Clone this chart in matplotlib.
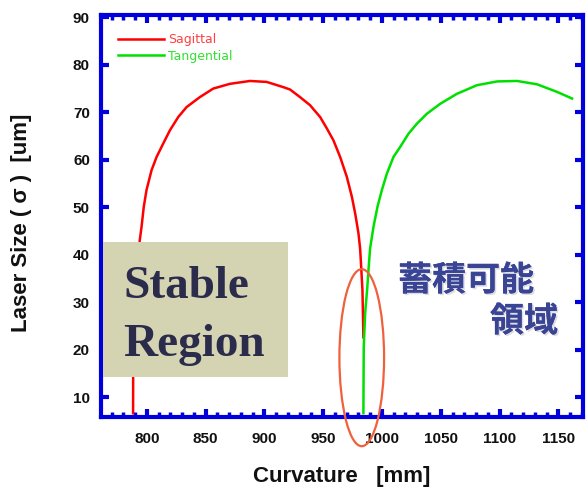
import matplotlib
matplotlib.use("Agg")
import matplotlib.pyplot as plt
from matplotlib.patches import Ellipse, Rectangle
from matplotlib.ticker import MultipleLocator
import matplotlib.patheffects as pe

# Beam size versus mirror curvature
sag_curv = [788.3, 788.4, 789.4, 791.5, 794.0, 795.5, 797.4, 799.7, 804.0, 808.3,
            813.9, 819.6, 826.7, 833.8, 845.1, 856.5, 870.7, 887.7, 901.9, 916.1,
            921.8, 930.3, 938.8, 947.4, 953.1, 958.7, 964.4, 970.1, 974.4, 977.2,
            980.0, 981.4, 982.0, 983.4, 984.2]
sag_size = [6.6, 20.0, 30.0, 38.0, 43.1, 45.9, 50.1, 53.6, 57.8, 60.6,
            63.4, 66.2, 69.0, 71.1, 73.2, 75.0, 76.0, 76.6, 76.4, 75.3,
            74.8, 73.2, 71.5, 69.0, 66.6, 64.1, 60.6, 56.4, 52.2, 48.7,
            44.5, 41.3, 38.8, 32.5, 22.6]

tan_curv = [984.2, 984.5, 985.7, 987.5, 988.5, 989.9, 992.8, 996.2, 999.9, 1004.2,
            1009.8, 1015.5, 1022.6, 1029.7, 1038.2, 1049.6, 1063.8, 1080.7, 1097.9,
            1114.9, 1131.9, 1148.9, 1161.7]
tan_size = [6.6, 20.5, 27.7, 33.0, 36.7, 41.3, 45.9, 50.1, 53.6, 57.1,
            60.6, 62.7, 65.5, 67.6, 69.7, 71.8, 73.9, 75.7, 76.5,
            76.6, 75.9, 74.3, 72.9]

x_ticks = [800, 850, 900, 950, 1000, 1050, 1100, 1150]
y_ticks = [10, 20, 30, 40, 50, 60, 70, 80, 90]

W, H, DPI = 587, 490, 100
fig = plt.figure(figsize=(W / DPI, H / DPI), dpi=DPI, facecolor="white")
# axes box in pixels: left 101, right 583, top 15, bottom 417
ax = fig.add_axes([101 / W, 1 - 417 / H, (583 - 101) / W, (417 - 15) / H])

ax.plot(sag_curv, sag_size, color="#ff0000", lw=1.8, label="Sagittal", zorder=3)
ax.plot(tan_curv, tan_size, color="#00e000", lw=1.8, label="Tangential", zorder=3)

ax.set_xlim(761, 1171)
ax.set_ylim(5.8, 90.5)
ax.set_xticks(x_ticks)
ax.set_yticks(y_ticks)
ax.xaxis.set_minor_locator(MultipleLocator(10))

blue = "#0000dd"
for s in ax.spines.values():
    s.set_color(blue)
    s.set_linewidth(3)
ax.tick_params(which="both", direction="in", colors=blue, top=True, right=True)
ax.tick_params(which="major", length=6, width=3)
ax.tick_params(which="minor", length=3.5, width=2.5)
ax.tick_params(axis="x", pad=11)
ax.tick_params(axis="y", pad=8)
for lab in ax.get_xticklabels() + ax.get_yticklabels():
    lab.set_color("#111111")
    lab.set_fontfamily("Liberation Sans")
    lab.set_fontweight("bold")
    lab.set_fontsize(11)

ax.set_xlabel("Curvature   [mm]", fontfamily="Liberation Sans", fontweight="bold",
              fontsize=16, color="#111111", labelpad=14)
ax.set_ylabel("Laser Size ( σ )  [um]", fontfamily="Liberation Sans", fontweight="bold",
              fontsize=16, color="#111111")
ax.yaxis.set_label_coords((32 - 101) / 482, 1 - (223 - 15) / 402)

leg = ax.legend(loc="upper left", frameon=False, fontsize=9, handlelength=3.7,
                handletextpad=0.3, labelspacing=0.3, borderaxespad=0.0,
                borderpad=0.0, bbox_to_anchor=(0.035, 0.955))
for txt, c in zip(leg.get_texts(), ["#ff4040", "#30e030"]):
    txt.set_color(c)

# highlight around the accumulation point
ax.add_patch(Ellipse((982.8, 18.3), 38, 37.3, fill=False, edgecolor="#f0603c",
                     lw=1.6, clip_on=False, zorder=4))

# "Stable Region" panel
fig.add_artist(Rectangle((103 / W, 1 - 377 / H), 185 / W, 135 / H,
                         transform=fig.transFigure, facecolor="#d4d3b2",
                         edgecolor="none", zorder=5))
for word, base in [("Stable", 298), ("Region", 356)]:
    fig.text(123 / W, 1 - base / H, word, fontfamily="Liberation Serif",
             fontweight="bold", fontsize=34, color="#2b2b4b", va="baseline",
             zorder=6)

shadow = [pe.withSimplePatchShadow(offset=(1.2, -1.2), shadow_rgbFace="#a0a0b0",
                                   alpha=0.35), pe.Normal()]
for word, xl, yc in [("蓄積可能", 398, 280), ("領域", 490, 321)]:
    fig.text(xl / W, 1 - yc / H, word, fontfamily="Noto Sans CJK JP",
             fontweight="bold", fontsize=24.5, color="#3a4494", va="center",
             ha="left", zorder=6, path_effects=shadow)

fig.savefig("out.png", dpi=DPI, facecolor="white")
